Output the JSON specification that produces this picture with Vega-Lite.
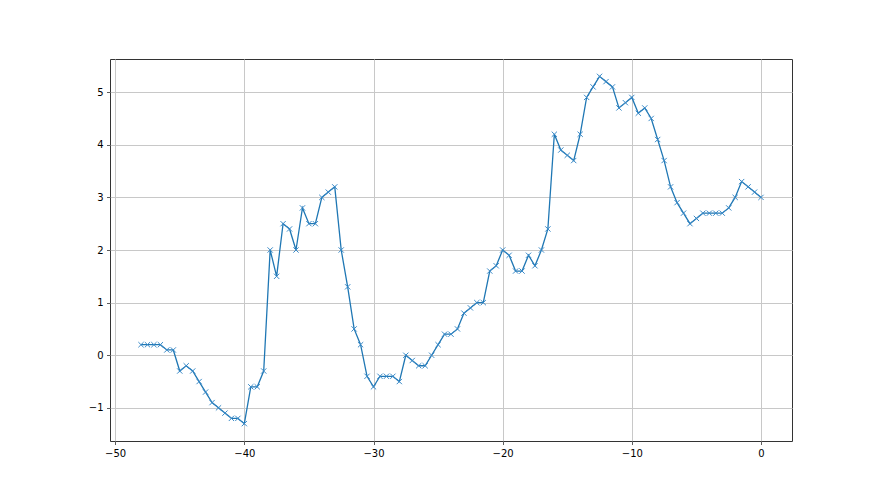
{
  "$schema": "https://vega.github.io/schema/vega-lite/v6.json",
  "width": 682,
  "height": 382,
  "autosize": {"type": "none"},
  "padding": {"left": 110, "top": 59, "right": 88, "bottom": 54},
  "background": "white",
  "config": {
    "view": {"stroke": "#333333", "strokeWidth": 1},
    "axis": {
      "labelFont": "DejaVu Sans",
      "labelFontSize": 10,
      "labelColor": "black",
      "tickColor": "#333333",
      "tickSize": 3.5,
      "tickWidth": 0.8,
      "domain": false,
      "grid": true,
      "gridColor": "#c8c8c8",
      "gridWidth": 1,
      "title": null,
      "labelPadding": 3.5
    }
  },
  "data": {"values": [
    {"x": -48, "y": 0.2}, {"x": -47.5, "y": 0.2}, {"x": -47, "y": 0.2}, {"x": -46.5, "y": 0.2},
    {"x": -46, "y": 0.1}, {"x": -45.5, "y": 0.1}, {"x": -45, "y": -0.3}, {"x": -44.5, "y": -0.2},
    {"x": -44, "y": -0.3}, {"x": -43.5, "y": -0.5}, {"x": -43, "y": -0.7}, {"x": -42.5, "y": -0.9},
    {"x": -42, "y": -1.0}, {"x": -41.5, "y": -1.1}, {"x": -41, "y": -1.2}, {"x": -40.5, "y": -1.2},
    {"x": -40, "y": -1.3}, {"x": -39.5, "y": -0.6}, {"x": -39, "y": -0.6}, {"x": -38.5, "y": -0.3},
    {"x": -38, "y": 2.0}, {"x": -37.5, "y": 1.5}, {"x": -37, "y": 2.5}, {"x": -36.5, "y": 2.4},
    {"x": -36, "y": 2.0}, {"x": -35.5, "y": 2.8}, {"x": -35, "y": 2.5}, {"x": -34.5, "y": 2.5},
    {"x": -34, "y": 3.0}, {"x": -33.5, "y": 3.1}, {"x": -33, "y": 3.2}, {"x": -32.5, "y": 2.0},
    {"x": -32, "y": 1.3}, {"x": -31.5, "y": 0.5}, {"x": -31, "y": 0.2}, {"x": -30.5, "y": -0.4},
    {"x": -30, "y": -0.6}, {"x": -29.5, "y": -0.4}, {"x": -29, "y": -0.4}, {"x": -28.5, "y": -0.4},
    {"x": -28, "y": -0.5}, {"x": -27.5, "y": 0.0}, {"x": -27, "y": -0.1}, {"x": -26.5, "y": -0.2},
    {"x": -26, "y": -0.2}, {"x": -25.5, "y": 0.0}, {"x": -25, "y": 0.2}, {"x": -24.5, "y": 0.4},
    {"x": -24, "y": 0.4}, {"x": -23.5, "y": 0.5}, {"x": -23, "y": 0.8}, {"x": -22.5, "y": 0.9},
    {"x": -22, "y": 1.0}, {"x": -21.5, "y": 1.0}, {"x": -21, "y": 1.6}, {"x": -20.5, "y": 1.7},
    {"x": -20, "y": 2.0}, {"x": -19.5, "y": 1.9}, {"x": -19, "y": 1.6}, {"x": -18.5, "y": 1.6},
    {"x": -18, "y": 1.9}, {"x": -17.5, "y": 1.7}, {"x": -17, "y": 2.0}, {"x": -16.5, "y": 2.4},
    {"x": -16, "y": 4.2}, {"x": -15.5, "y": 3.9}, {"x": -15, "y": 3.8}, {"x": -14.5, "y": 3.7},
    {"x": -14, "y": 4.2}, {"x": -13.5, "y": 4.9}, {"x": -13, "y": 5.1}, {"x": -12.5, "y": 5.3},
    {"x": -12, "y": 5.2}, {"x": -11.5, "y": 5.1}, {"x": -11, "y": 4.7}, {"x": -10.5, "y": 4.8},
    {"x": -10, "y": 4.9}, {"x": -9.5, "y": 4.6}, {"x": -9, "y": 4.7}, {"x": -8.5, "y": 4.5},
    {"x": -8, "y": 4.1}, {"x": -7.5, "y": 3.7}, {"x": -7, "y": 3.2}, {"x": -6.5, "y": 2.9},
    {"x": -6, "y": 2.7}, {"x": -5.5, "y": 2.5}, {"x": -5, "y": 2.6}, {"x": -4.5, "y": 2.7},
    {"x": -4, "y": 2.7}, {"x": -3.5, "y": 2.7}, {"x": -3, "y": 2.7}, {"x": -2.5, "y": 2.8},
    {"x": -2, "y": 3.0}, {"x": -1.5, "y": 3.3}, {"x": -1, "y": 3.2}, {"x": -0.5, "y": 3.1},
    {"x": 0, "y": 3.0}
  ]},
  "encoding": {
    "x": {"field": "x", "type": "quantitative",
      "scale": {"domain": [-50.4, 2.4], "nice": false, "zero": false},
      "axis": {"values": [-50, -40, -30, -20, -10, 0], "format": "d"}},
    "y": {"field": "y", "type": "quantitative",
      "scale": {"domain": [-1.63, 5.63], "nice": false, "zero": false},
      "axis": {"values": [-1, 0, 1, 2, 3, 4, 5], "format": "d"}}
  },
  "layer": [
    {"mark": {"type": "line", "color": "#1f77b4", "strokeWidth": 1.3}},
    {"mark": {"type": "point", "shape": "M-1,-1L1,1M-1,1L1,-1", "size": 28, "filled": false, "color": "#3a8ac8", "strokeWidth": 1, "opacity": 1}}
  ]
}
